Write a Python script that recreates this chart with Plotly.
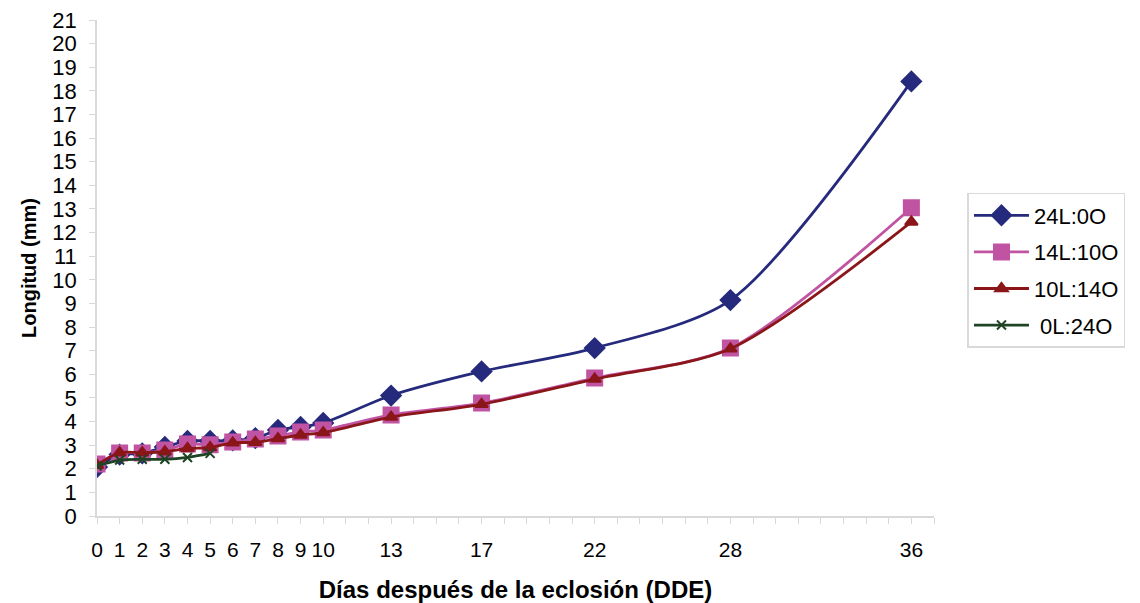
import plotly.graph_objects as go

# Days after hatching
days_all = [0, 1, 2, 3, 4, 5, 6, 7, 8, 9, 10, 13, 17, 22, 28, 36]
days_dark = [0, 1, 2, 3, 4, 5]

# Mean larval length (mm) per photoperiod
len_24L0O = [2.07, 2.6, 2.65, 2.92, 3.18, 3.18, 3.2, 3.3, 3.64, 3.77, 3.94, 5.1, 6.12, 7.11, 9.14, 18.4]
len_14L10O = [2.2, 2.67, 2.67, 2.79, 3.05, 3.02, 3.13, 3.26, 3.39, 3.56, 3.64, 4.28, 4.78, 5.84, 7.11, 13.05]
len_10L14O = [2.15, 2.68, 2.68, 2.72, 2.86, 2.9, 3.1, 3.12, 3.28, 3.43, 3.53, 4.19, 4.73, 5.8, 7.08, 12.45]
len_0L24O = [2.12, 2.37, 2.4, 2.4, 2.48, 2.65]

tick_days = [0, 1, 2, 3, 4, 5, 6, 7, 8, 9, 10, 13, 17, 22, 28, 36]
tick_text = [str(d) for d in tick_days]

series = [
    ("24L:0O", days_all, len_24L0O, "#262A7C", "diamond", 15, 2.8),
    ("14L:10O", days_all, len_14L10O, "#C054A3", "square", 15, 2.8),
    ("10L:14O", days_all, len_10L14O, "#8A1619", "triangle-up", 11, 2.8),
    ("\u00a00L:24O", days_dark, len_0L24O, "#1F4424", "x-thin", 9, 2.8),
]

fig = go.Figure()
for name, x, y, color, symbol, size, width in series:
    fig.add_trace(go.Scatter(
        x=x, y=y, name=name, mode="lines+markers", legendgroup=name,
        line=dict(color=color, width=width, shape="spline", smoothing=0.8),
        marker=dict(symbol=symbol, size=size, color=color,
                    line=dict(color=color, width=2)),
    ))

axis_grey = "#D9D9D9"
fig.update_layout(
    width=1140, height=603,
    paper_bgcolor="white", plot_bgcolor="white",
    margin=dict(l=97, r=206, t=20, b=87),
    font=dict(family="Liberation Sans, Arial, sans-serif", size=22, color="black"),
    showlegend=True,
    legend=dict(
        x=1.04, xanchor="left", y=0.495, yanchor="middle",
        bordercolor=axis_grey, borderwidth=1.5,
        font=dict(size=22), tracegroupgap=5,
        itemwidth=55,
    ),
    xaxis=dict(
        range=[0, 37], tickmode="array", tickvals=tick_days, ticktext=tick_text,
        automargin=False,
        showgrid=False, zeroline=False, showline=True, linecolor=axis_grey, linewidth=1.5,
        ticks="outside", ticklen=6, tickcolor=axis_grey, ticklabelstandoff=8,
        tickfont=dict(size=21),
        minor=dict(dtick=1, tick0=0, ticks="outside", ticklen=6, tickcolor=axis_grey),
        title=dict(text="<b>Días después de la eclosión (DDE)</b>", standoff=26,
                   font=dict(size=24)),
    ),
    yaxis=dict(
        range=[0, 21], dtick=1, tick0=0,
        automargin=False,
        showgrid=False, zeroline=False, showline=True, linecolor=axis_grey, linewidth=1.5,
        ticks="outside", ticklen=6, tickcolor=axis_grey, ticklabelstandoff=8,
        tickfont=dict(size=22),
        title=dict(text="<b>Longitud (mm)</b>", standoff=10, font=dict(size=20)),
    ),
)

fig.write_html("out.html")
